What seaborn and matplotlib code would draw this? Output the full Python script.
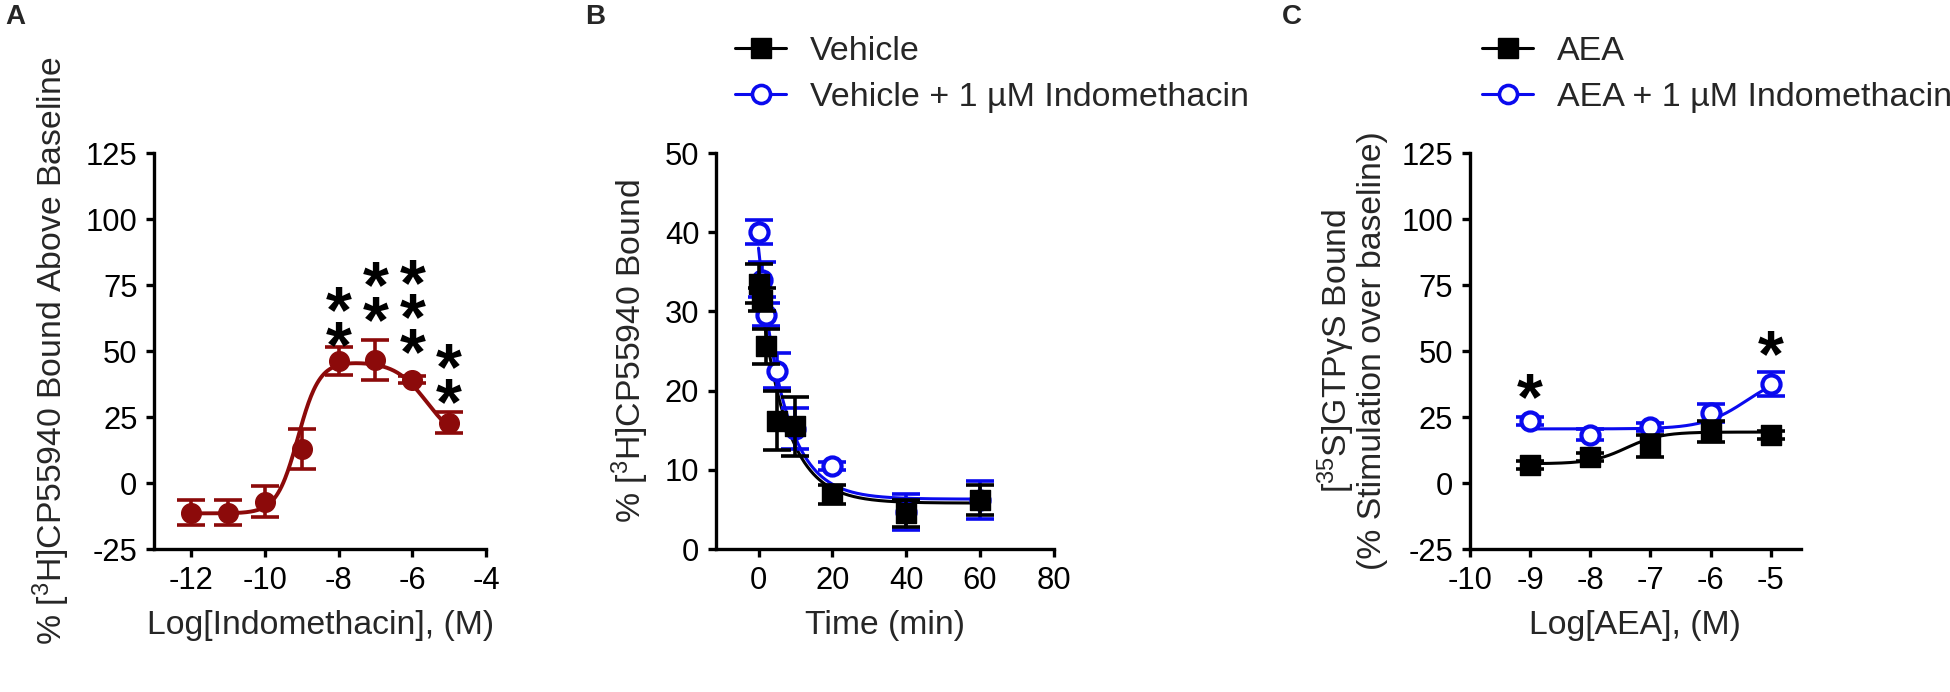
import numpy as np
import pandas as pd
import matplotlib
matplotlib.use("Agg")
import matplotlib.pyplot as plt
import matplotlib.transforms as mtransforms
import seaborn as sns
from matplotlib.lines import Line2D

# ---- panel A : indomethacin concentration response
a_x = [-12, -11, -10, -9, -8, -7, -6, -5]
a_y = [-11.3, -11.3, -7.0, 12.9, 46.3, 46.6, 39.2, 22.8]
a_err = [4.7, 4.7, 5.7, 7.6, 5.3, 7.4, 1.5, 4.0]
# significance stars: column position, number of stars, centre of the stack
a_star_x = [-8, -7, -6, -5]
a_star_n = [2, 2, 3, 2]
a_star_y = [62.8, 72.2, 66.7, 41.2]
# bell-shaped fit parameters
a_fit = dict(b1=-11.5, top=46.0, b2=15.0, c1=-9.1, c2=-5.6, h1=1.5, h2=1.0)

# ---- panel B : dissociation time course
b_t = [0, 1, 2, 5, 10, 20, 40, 60]
b_veh = [33.5, 31.5, 25.6, 16.2, 15.5, 6.9, 4.5, 6.2]
b_veh_err = [2.5, 1.5, 2.2, 3.7, 3.7, 1.2, 1.7, 1.9]
b_ind = [40.0, 34.0, 29.6, 22.5, 15.2, 10.5, 4.7, 6.2]
b_ind_err = [1.5, 2.2, 1.5, 2.2, 2.6, 0.5, 2.3, 2.4]
# one-phase decay fits (y0, plateau, k)
b_veh_fit = (34.0, 5.8, 0.137)
b_ind_fit = (38.0, 6.3, 0.141)

# ---- panel C : AEA stimulated [35S]GTPyS
c_x = [-9, -8, -7, -6, -5]
c_aea = [7.0, 9.7, 14.0, 19.5, 18.3]
c_aea_err = [1.5, 1.5, 4.3, 4.0, 1.5]
c_ind = [23.4, 18.3, 21.1, 26.6, 37.5]
c_ind_err = [1.5, 2.0, 1.5, 3.5, 4.7]
c_star_x = [-9, -5]
c_star_n = [1, 1]
c_star_y = [36.7, 53.0]
# sigmoid fits (bottom, top, logEC50, hill)
c_aea_fit = (7.3, 19.3, -7.4, 1.5)
c_ind_fit = (20.5, 42.0, -5.4, 1.2)

RED = "#8c0a0a"
BLUE = "#0a0aee"
BLACK = "black"

sns.set_theme(style="ticks")
plt.rcParams["font.family"] = ["Liberation Sans", "DejaVu Sans"]
plt.rcParams["mathtext.fontset"] = "custom"
plt.rcParams["mathtext.rm"] = "Liberation Sans"
plt.rcParams["axes.unicode_minus"] = False
plt.rcParams["axes.linewidth"] = 2.4
plt.rcParams["xtick.major.width"] = 2.4
plt.rcParams["ytick.major.width"] = 2.4
plt.rcParams["xtick.major.size"] = 6
plt.rcParams["ytick.major.size"] = 6
plt.rcParams["xtick.color"] = "black"
plt.rcParams["ytick.color"] = "black"
plt.rcParams["axes.edgecolor"] = "black"

TICK_FS = 22.3
LABEL_FS = 24.3
LEG_FS = 24.5
STAR_FS = 48

fig = plt.figure(figsize=(19.5, 6.92), dpi=100)
ax_a = fig.add_axes([0.0790, 0.2066, 0.1703, 0.5723])
ax_b = fig.add_axes([0.3672, 0.2066, 0.1733, 0.5723])
ax_c = fig.add_axes([0.7538, 0.2066, 0.1697, 0.5723])


def sig(x, bottom, top, c, h):
    return bottom + (top - bottom) / (1 + 10 ** ((c - x) * h))


def draw_series(ax, x, y, err, color, marker, filled, z):
    ax.errorbar(x, y, yerr=err, fmt="none", ecolor=color, elinewidth=2.6,
                capsize=10, capthick=2.6, zorder=z)
    df = pd.DataFrame({"x": x, "y": y})
    if filled:
        sns.scatterplot(data=df, x="x", y="y", ax=ax, marker=marker, s=200,
                        color=color, edgecolor=color, linewidth=1, zorder=z + 0.5)
    else:
        sns.scatterplot(data=df, x="x", y="y", ax=ax, marker=marker, s=170,
                        facecolor="white", edgecolor=color, linewidth=3,
                        zorder=z + 0.5)


def draw_stars(ax, xs, ys, ns):
    # the asterisk glyph sits high in its line box, so nudge the text down
    shift = mtransforms.ScaledTranslation(0, -0.156, fig.dpi_scale_trans)
    for sx, sy, n in zip(xs, ys, ns):
        ax.text(sx, sy, "\n".join(["*"] * n), ha="center", va="center",
                fontsize=STAR_FS, fontweight="bold", color="black",
                linespacing=0.435, transform=ax.transData + shift)


def style_axis(ax):
    sns.despine(ax=ax)
    ax.tick_params(labelsize=TICK_FS, pad=6, direction="out")
    ax.patch.set_alpha(0)


# ---- A
xa = np.linspace(min(a_x), max(a_x), 300)
p = a_fit
ya = (p["b1"] + (p["top"] - p["b1"]) / (1 + 10 ** ((p["c1"] - xa) * p["h1"]))
      + (p["b2"] - p["top"]) / (1 + 10 ** ((p["c2"] - xa) * p["h2"])))
sns.lineplot(x=xa, y=ya, ax=ax_a, color=RED, linewidth=2.8, zorder=2)
draw_series(ax_a, a_x, a_y, a_err, RED, "o", True, 3)
draw_stars(ax_a, a_star_x, a_star_y, a_star_n)
ax_a.set_xlim(-13, -4)
ax_a.set_ylim(-25, 125)
ax_a.set_xticks([-12, -10, -8, -6, -4])
ax_a.set_yticks([-25, 0, 25, 50, 75, 100, 125])
ax_a.set_xlabel("Log[Indomethacin], (M)", fontsize=LABEL_FS, labelpad=10)
ax_a.set_ylabel(r"% [$\mathregular{^3}$H]CP55940 Bound Above Baseline",
                fontsize=LABEL_FS, labelpad=10)
style_axis(ax_a)

# ---- B
tb = np.linspace(0, 60, 300)
y0, pl, k = b_ind_fit
sns.lineplot(x=tb, y=pl + (y0 - pl) * np.exp(-k * tb), ax=ax_b, color=BLUE,
             linewidth=2.2, zorder=2)
y0, pl, k = b_veh_fit
sns.lineplot(x=tb, y=pl + (y0 - pl) * np.exp(-k * tb), ax=ax_b, color=BLACK,
             linewidth=2.2, zorder=2)
draw_series(ax_b, b_t, b_ind, b_ind_err, BLUE, "o", False, 3)
draw_series(ax_b, b_t, b_veh, b_veh_err, BLACK, "s", True, 5)
ax_b.set_xlim(-11.5, 80)
ax_b.set_ylim(0, 50)
ax_b.set_xticks([0, 20, 40, 60, 80])
ax_b.set_yticks([0, 10, 20, 30, 40, 50])
ax_b.set_xlabel("Time (min)", fontsize=LABEL_FS, labelpad=10)
ax_b.set_ylabel(r"% [$\mathregular{^3}$H]CP55940 Bound", fontsize=LABEL_FS,
                labelpad=10)
style_axis(ax_b)

# ---- C
xc = np.linspace(min(c_x), max(c_x), 300)
sns.lineplot(x=xc, y=sig(xc, *c_ind_fit), ax=ax_c, color=BLUE, linewidth=2.2,
             zorder=2)
sns.lineplot(x=xc, y=sig(xc, *c_aea_fit), ax=ax_c, color=BLACK, linewidth=2.2,
             zorder=2)
draw_series(ax_c, c_x, c_ind, c_ind_err, BLUE, "o", False, 3)
draw_series(ax_c, c_x, c_aea, c_aea_err, BLACK, "s", True, 5)
draw_stars(ax_c, c_star_x, c_star_y, c_star_n)
ax_c.set_xlim(-10, -4.5)
ax_c.set_ylim(-25, 125)
ax_c.set_xticks([-10, -9, -8, -7, -6, -5])
ax_c.set_yticks([-25, 0, 25, 50, 75, 100, 125])
ax_c.set_xlabel("Log[AEA], (M)", fontsize=LABEL_FS, labelpad=10)
ax_c.set_ylabel("[$\\mathregular{^{35}}$S]GTPγS Bound\n(% Stimulation over baseline)",
                fontsize=LABEL_FS, labelpad=10, linespacing=1.0)
style_axis(ax_c)


# ---- legends
def make_handles(lab1, lab2):
    h1 = Line2D([], [], color=BLACK, marker="s", markersize=14, linewidth=2.2)
    h2 = Line2D([], [], color=BLUE, marker="o", markersize=13, linewidth=2.2,
                markerfacecolor="white", markeredgewidth=2.6)
    return [h1, h2], [lab1, lab2]


for (l1, l2), x0 in [(("Vehicle", "Vehicle + 1 µM Indomethacin"), 735),
                     (("AEA", "AEA + 1 µM Indomethacin"), 1482)]:
    hs, ls = make_handles(l1, l2)
    fig.legend(hs, ls, loc="upper left", bbox_to_anchor=(x0 / 1950, 0.948),
               frameon=False, fontsize=LEG_FS, handlelength=1.5,
               handletextpad=0.7, labelspacing=0.45, borderpad=0,
               borderaxespad=0)

for lab, x in [("A", 15), ("B", 595), ("C", 1292)]:
    fig.text(x / 1950, 1 - 17 / 692, lab, ha="center", va="center",
             fontsize=20, fontweight="bold")

fig.savefig("out.png", dpi=100)
